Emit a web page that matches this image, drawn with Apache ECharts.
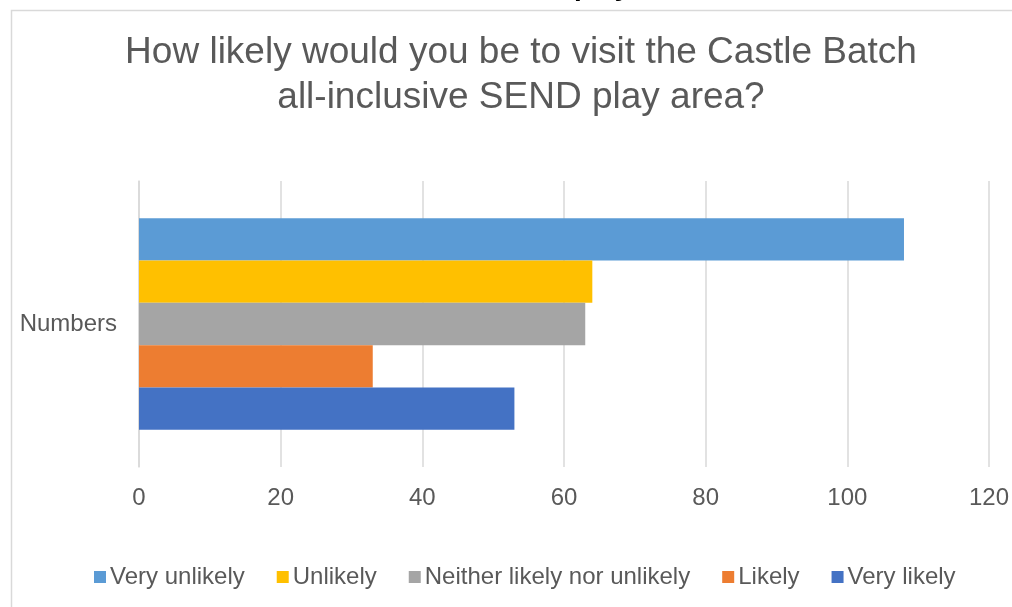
<!DOCTYPE html>
<html>
<head>
<meta charset="utf-8">
<script src="https://cdn.jsdelivr.net/npm/echarts@6/dist/echarts.min.js"></script>
<style>
  html, body { margin: 0; padding: 0; background: #fff; }
  #chart { width: 1012px; height: 607px; }
</style>
</head>
<body>
<div id="chart"></div>
<script>
// Survey answers: how many respondents chose each option
const categories = ['Numbers'];
const answerNames = ['Very unlikely', 'Unlikely', 'Neither likely nor unlikely', 'Likely', 'Very likely'];
const answerCounts = [108, 64, 63, 33, 53];
const answerColors = ['#5b9bd5', '#ffc000', '#a5a5a5', '#ed7d31', '#4472c4'];
const xTicks = [0, 20, 40, 60, 80, 100, 120];

const textColor = '#595959';
const font = '"Liberation Sans", Arial, sans-serif';

// One bar per answer, laid side by side inside the single category band
const series = answerNames.map((name, i) => ({
  name: name,
  type: 'bar',
  barGap: '0%',
  barCategoryGap: '26%',
  itemStyle: { color: answerColors[i] },
  data: [answerCounts[i]]
}));

const chart = echarts.init(document.getElementById('chart'), null, { renderer: 'canvas' });
chart.setOption({
  animation: false,
  backgroundColor: '#fff',
  textStyle: { fontFamily: font },
  title: {
    text: 'How likely would you be to visit the Castle Batch\nall-inclusive SEND play area?',
    left: 521,
    top: 30,
    textAlign: 'center',
    padding: 0,
    textStyle: {
      color: textColor,
      fontFamily: font,
      fontSize: 37,
      fontWeight: 'normal',
      lineHeight: 45
    }
  },
  graphic: [
    {
      type: 'rect',
      silent: true,
      shape: { x: 11.5, y: 10.5, width: 1100, height: 700 },
      style: { fill: 'none', stroke: '#d9d9d9', lineWidth: 1.5 }
    },
    {
      type: 'text',
      silent: true,
      x: 574,
      y: 1,
      style: {
        text: 'play',
        fill: '#000',
        font: 'bold 28px ' + font,
        verticalAlign: 'bottom'
      }
    }
  ],
  legend: {
    data: answerNames,
    left: 94,
    top: 565,
    padding: 0,
    icon: 'rect',
    itemWidth: 12,
    itemHeight: 12,
    itemGap: 32,
    textStyle: { color: textColor, fontFamily: font, fontSize: 24, padding: [0, 0, 0, -1] }
  },
  grid: { left: 139, right: 23, top: 181, bottom: 140, containLabel: false },
  xAxis: {
    type: 'value',
    min: xTicks[0],
    max: xTicks[xTicks.length - 1],
    interval: xTicks[1] - xTicks[0],
    axisLine: { show: false },
    axisTick: { show: false },
    axisLabel: { color: textColor, fontFamily: font, fontSize: 24, margin: 19 },
    splitLine: { lineStyle: { color: '#d9d9d9', width: 1.5 } }
  },
  yAxis: {
    type: 'category',
    data: categories,
    axisLine: { show: true, lineStyle: { color: '#d9d9d9', width: 1.5 } },
    axisTick: { show: false },
    axisLabel: { color: textColor, fontFamily: font, fontSize: 24, margin: 22 }
  },
  series: series
});
</script>
</body>
</html>
